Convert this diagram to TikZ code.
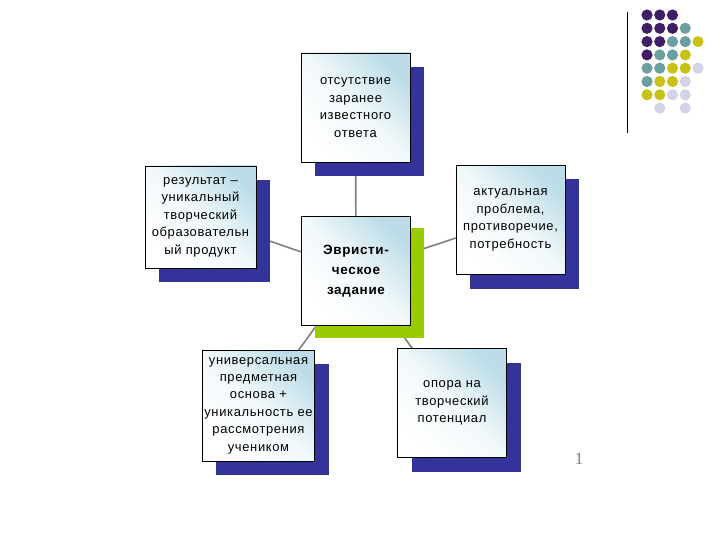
\documentclass[tikz,border=0pt]{standalone}
\usepackage{fontspec}
\setmainfont{Liberation Sans}[LetterSpace=5]
\newfontfamily\pagenumfont{Liberation Serif}
\usetikzlibrary{shadows,backgrounds}
\definecolor{boxblue}{HTML}{BCDDE8}
\definecolor{shadowblue}{HTML}{333399}
\definecolor{shadowgreen}{HTML}{99CC00}
\definecolor{linkgray}{HTML}{808080}
\definecolor{dotpurple}{HTML}{3F1E66}
\definecolor{dotteal}{HTML}{6C9FA0}
\definecolor{dotyellow}{HTML}{C9C216}
\definecolor{dotlilac}{HTML}{D3D3E8}

\begin{document}
\begin{tikzpicture}[x=1bp, y=-1bp,
  every box/.style={draw=black, line width=0.8bp, minimum width=109bp,
    minimum height=109bp, inner sep=2bp, align=center,
    font=\fontsize{13}{17.5}\selectfont,
    top color=boxblue, bottom color=white, middle color=white!80!boxblue,
    shading angle=-45},
  blue box/.style={every box, drop shadow={shadow xshift=14bp,
    shadow yshift=-14bp, fill=shadowblue, opacity=1}},
  green box/.style={every box, font=\bfseries\fontsize{13.5}{20}\selectfont,
    drop shadow={shadow xshift=13bp, shadow yshift=-12bp,
    fill=shadowgreen, opacity=1}},
  link/.style={draw=linkgray, line width=1.6bp},
  dotP/.style={fill=dotpurple}, dotT/.style={fill=dotteal},
  dotY/.style={fill=dotyellow}, dotL/.style={fill=dotlilac}, gap/.style={}]

\useasboundingbox (0,0) rectangle (720,540);

% boxes
\node [green box] (task) at (356,271) {Эвристи-\\ческое\\задание};
\node [blue box] (answer) at (355.5,107.5) {отсутствие\\заранее\\известного\\ответа};
\node [blue box, minimum width=111bp, minimum height=102bp] (result) at (200.5,217)
  {результат –\\уникальный\\творческий\\образовательн\\ый продукт};
\node [blue box] (problem) at (510.5,220) {актуальная\\проблема,\\противоречие,\\потребность};
\node [blue box, minimum width=111bp, minimum height=111bp] (basis) at (258.5,405.5)
  {универсальная\\предметная\\основа +\\уникальность ее\\рассмотрения\\учеником};
\node [blue box] (potential) at (452,403) {опора на\\творческий\\потенциал};

% links
\begin{pgfonlayer}{background}
\foreach \n in {answer,result,problem,basis,potential}
  \draw [link] (task.center) -- (\n.center);
\end{pgfonlayer}

% corner dots
\draw [line width=1bp] (627,12) -- (627,133);
\foreach \row [count=\r] in {{dotP,dotP,dotP},{dotP,dotP,dotP,dotT},
    {dotP,dotP,dotT,dotT,dotY},{dotP,dotT,dotT,dotY},
    {dotT,dotT,dotY,dotY,dotL},{dotT,dotY,dotY,dotL},
    {dotY,dotY,dotL,dotL},{gap,dotL,gap,dotL}}
  \foreach \c [count=\k] in \row
    \path [\c] (634.25+12.75*\k, 1.7+13.3*\r) circle (5.6);

\node [text=gray, font=\pagenumfont\fontsize{17}{17}\selectfont] (pagenum) at (579,459) {1};
\end{tikzpicture}
\end{document}
